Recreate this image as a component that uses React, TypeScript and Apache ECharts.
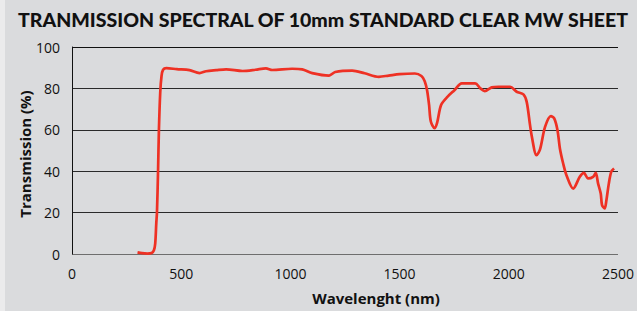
import React, { useEffect, useRef } from "react";
import * as echarts from "echarts";

const wavelengths = [300, 320, 345, 365, 375, 381, 386, 389, 394, 398, 404, 410, 417, 432, 480, 538, 584, 614, 660, 706, 781, 840, 888, 917, 1008, 1054, 1100, 1177, 1205, 1283, 1340, 1405, 1450, 1500, 1570, 1600, 1615, 1626, 1635, 1643, 1660, 1672, 1690, 1720, 1750, 1785, 1846, 1870, 1890, 1922, 1953, 2006, 2036, 2067, 2082, 2097, 2105, 2127, 2143, 2166, 2193, 2208, 2223, 2234, 2249, 2264, 2295, 2325, 2344, 2363, 2386, 2398, 2409, 2421, 2427, 2439, 2447, 2458, 2469, 2482];
const transmission = [0.8, 0.4, 0.2, 0.5, 1.8, 5, 15, 20, 40, 60, 78, 86, 89, 89.8, 89.3, 88.8, 87.4, 88.3, 88.8, 89.2, 88.4, 89, 89.7, 88.9, 89.5, 89.2, 87.4, 86.2, 87.9, 88.6, 87.3, 85.6, 86.2, 86.9, 87.2, 86, 83.5, 79, 72, 64, 60.8, 63.5, 72, 76, 79, 82.4, 82.4, 80, 78.7, 80.5, 80.8, 80.8, 78.4, 77.1, 73.5, 62.5, 57, 47.7, 50.5, 61.4, 66.6, 65.5, 59.8, 51, 43.7, 38.1, 31.6, 37.3, 39.2, 36.5, 37.3, 39.2, 34, 29.2, 23.6, 22, 26, 34, 39.7, 41.3];

const title = "TRANMISSION SPECTRAL OF 10mm STANDARD CLEAR MW SHEET";
const xName = "Wavelenght (nm)";
const yName = "Transmission (%)";

export default function App() {
  const ref = useRef<HTMLDivElement>(null);
  useEffect(() => {
    if (!ref.current) return;
    const chart = echarts.init(ref.current, null, { renderer: "svg" });
    const data = wavelengths.map((w, i) => [w, transmission[i]]);
    chart.setOption({
      animation: false,
      backgroundColor: "#dadbdd",
      grid: { left: 72, right: 17, top: 47, bottom: 57 },
      graphic: [
        { type: "rect", left: 0, top: 0, shape: { width: 5, height: 311 }, style: { fill: "#ebebec" }, z: -1 },
        {
          type: "text", x: 323, y: 19,
          style: { text: title, fill: "#111", font: "900 19.5px Lato", textAlign: "center", textVerticalAlign: "middle" },
        },
        {
          type: "text", x: 376, y: 298,
          style: { text: xName, fill: "#111", font: "bold 15px 'Open Sans'", textAlign: "center", textVerticalAlign: "middle" },
        },
        {
          type: "text", x: 25, y: 154, rotation: Math.PI / 2,
          style: { text: yName, fill: "#111", font: "bold 15px 'Open Sans'", textAlign: "center", textVerticalAlign: "middle" },
        },
      ],
      xAxis: {
        type: "value", min: 0, max: 2500, interval: 500,
        axisLine: { show: false },
        axisTick: { show: false },
        splitLine: { show: false },
        axisLabel: { color: "#111", fontSize: 14, fontFamily: "Open Sans", margin: 12, formatter: (v: number) => String(v) },
      },
      yAxis: {
        type: "value", min: 0, max: 100, interval: 20,
        axisLine: { show: true, lineStyle: { color: "#111", width: 1 } },
        axisTick: { show: false },
        splitLine: {
          show: true,
          lineStyle: { color: ["#6e6e6e", "#2a2a2a", "#2a2a2a", "#2a2a2a", "#2a2a2a", "#111"], width: 1.2 },
        },
        axisLabel: { color: "#111", fontSize: 14, fontFamily: "Open Sans", margin: 12, formatter: (v: number) => String(v) },
      },
      series: [
        {
          type: "line", data, showSymbol: false, smooth: 0.3,
          lineStyle: { color: "#ee3124", width: 2.7 },
        },
      ],
    });
    return () => chart.dispose();
  }, []);
  return <div ref={ref} style={{ position: "absolute", left: 0, top: 0, width: 637, height: 311 }} />;
}
